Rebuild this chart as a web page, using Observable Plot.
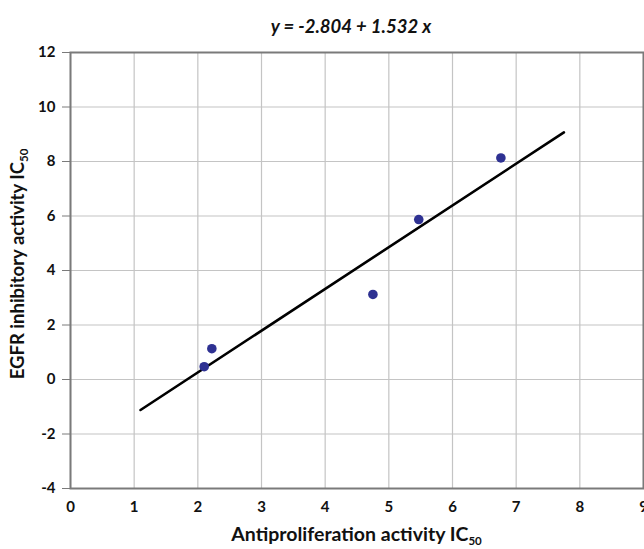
<!DOCTYPE html>
<html>
<head>
<meta charset="utf-8">
<script src="https://cdn.jsdelivr.net/npm/d3@7"></script>
<script src="https://cdn.jsdelivr.net/npm/@observablehq/plot@0.6"></script>
<style>
  html, body { margin: 0; padding: 0; background: #fff; }
  #wrap { width: 644px; font-family: Lato, "Open Sans", sans-serif; }
  #title { height: 40px; width: 644px; position: relative; overflow: hidden; }
  #title span { position: absolute; left: 0; width: 702px; text-align: center; top: 16px;
    font-weight: bold; font-style: italic; font-size: 18.5px; line-height: 20px; color: #111; }
  #chart svg text { font-weight: 700; }
</style>
</head>
<body>
<div id="wrap">
  <div id="title"><span>y = -2.804 + 1.532 x</span></div>
  <div id="chart"></div>
</div>
<script>
// Data
const antiproliferationIC50 = [2.10, 2.22, 4.75, 5.47, 6.76];
const egfrIC50 = [0.47, 1.13, 3.12, 5.87, 8.13];
// Regression line shown in title: y = -2.804 + 1.532 x
const intercept = -2.804;
const slope = 1.532;
const lineXs = [1.1, 7.75];
const xTicks = [0, 1, 2, 3, 4, 5, 6, 7, 8, 9];
const yTicks = [-4, -2, 0, 2, 4, 6, 8, 10, 12];

const points = antiproliferationIC50.map((x, i) => ({x, y: egfrIC50[i]}));
const fitLine = lineXs.map(x => ({x, y: intercept + slope * x}));
const fmt = d => String(d);

const plot = Plot.plot({
  width: 644,
  height: 509,
  marginLeft: 70,
  marginRight: 1,
  marginTop: 12,
  marginBottom: 61,
  style: {fontFamily: "Lato, 'Open Sans', sans-serif", fontSize: "15px", color: "#111", background: "#fff"},
  x: {domain: [0, 9], ticks: xTicks, label: null},
  y: {domain: [-4, 12], ticks: yTicks, label: null},
  marks: [
    Plot.gridX(xTicks, {stroke: "#c4c4c4", strokeOpacity: 1, strokeWidth: 1.2}),
    Plot.gridY(yTicks, {stroke: "#c4c4c4", strokeOpacity: 1, strokeWidth: 1.2}),
    Plot.frame({stroke: "#7a7a7a", strokeWidth: 2}),
    Plot.axisX({ticks: xTicks, tickFormat: fmt, tickSize: 0, tickPadding: 13, label: null}),
    Plot.axisY({ticks: yTicks, tickFormat: fmt, tickSize: 8, tickPadding: 7, stroke: "#7a7a7a", label: null}),
    Plot.line(fitLine, {x: "x", y: "y", stroke: "#000", strokeWidth: 2.6}),
    Plot.dot(points, {x: "x", y: "y", r: 4.8, fill: "#2e3192", stroke: "none"})
  ]
});
document.getElementById("chart").appendChild(plot);

// Axis titles with subscripts
const svg = d3.select(plot);
const xs = plot.scale("x").range;
const cx = (xs[0] + xs[1]) / 2;
const xt = svg.append("text")
  .attr("x", cx).attr("y", 501)
  .attr("text-anchor", "middle")
  .attr("font-size", 19.5).attr("font-weight", "bold").attr("fill", "#111");
xt.append("tspan").text("Antiproliferation activity IC");
xt.append("tspan").attr("dy", 4).attr("font-size", 11.5).text("50");

const yt = svg.append("text")
  .attr("transform", `translate(24,224) rotate(-90)`)
  .attr("text-anchor", "middle")
  .attr("font-size", 18.5).attr("font-weight", "bold").attr("fill", "#111");
yt.append("tspan").text("EGFR inhibitory activity IC");
yt.append("tspan").attr("dy", 4).attr("font-size", 11.5).text("50");
</script>
</body>
</html>
